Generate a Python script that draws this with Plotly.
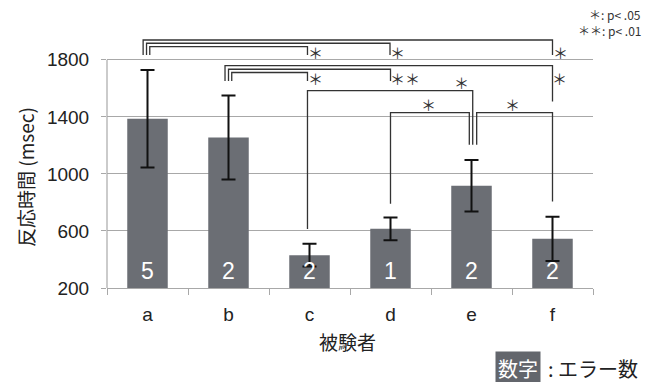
import plotly.graph_objects as go

# Reaction time per participant
subjects = ["a", "b", "c", "d", "e", "f"]
mean_rt = [1387, 1255, 430, 615, 917, 545]
sd_rt = [342, 295, 80, 80, 181, 155]
error_counts = ["5", "2", "2", "1", "2", "2"]
y_ticks = [200, 600, 1000, 1400, 1800]

# Significance brackets: left x, right x (category index), bracket top,
# left foot, right foot (msec)
bracket_x0 = [-0.054, -0.012, 0.028, 0.957, 1.0, 1.04, 1.975, 3.0, 4.064]
bracket_x1 = [5.0, 2.994, 1.975, 5.0, 3.0, 1.975, 4.015, 3.973, 5.0]
bracket_top = [1939, 1916, 1892, 1759, 1734, 1711, 1584, 1430, 1430]
bracket_foot0 = [1834, 1834, 1834, 1652, 1652, 1652, 613, 790, 1204]
bracket_foot1 = [1834, 1834, 1834, 1507, 1652, 1652, 1204, 1204, 806]

# Significance marks
mark_x = [2.07, 3.09, 5.1, 2.07, 3.18, 5.09, 3.88, 3.47, 4.51]
mark_y = [1853, 1853, 1853, 1666, 1666, 1666, 1638, 1490, 1490]
mark_text = ["＊", "＊", "＊", "＊", "＊＊", "＊", "＊", "＊", "＊"]

JP = "Noto Sans CJK JP"
LAT = "Liberation Sans, Noto Sans CJK JP"
GRID = "#a8a8a8"
LINE = "#333333"

L, R, T, B = 107, 66, 37, 94
W, H = 659, 382
PW, PH = W - L - R, H - T - B


def px(x):
    return (x - L) / PW


def py(y):
    return (H - B - y) / PH


fig = go.Figure()
fig.add_trace(go.Bar(
    x=subjects, y=mean_rt, base=0,
    marker=dict(color="#6b6e74", line=dict(width=0)),
    width=0.5,
    error_y=dict(type="data", array=sd_rt, visible=True,
                 color="#111111", thickness=2, width=7),
    showlegend=False,
))

shapes = []
# y axis line only spans the labelled range
shapes.append(dict(type="line", xref="paper", yref="y", x0=0, x1=0,
                   y0=200, y1=1800, line=dict(color=GRID, width=1.2)))
for x0, x1, top, f0, f1 in zip(bracket_x0, bracket_x1, bracket_top,
                               bracket_foot0, bracket_foot1):
    path = f"M {x0} {f0} L {x0} {top} L {x1} {top} L {x1} {f1}"
    shapes.append(dict(type="path", xref="x", yref="y", path=path,
                       line=dict(color=LINE, width=1.3)))

annotations = []
for x, y, t in zip(mark_x, mark_y, mark_text):
    annotations.append(dict(x=x, y=y, xref="x", yref="y", text=t,
                            showarrow=False, xanchor="center", yanchor="middle",
                            font=dict(family=JP, size=15, color=LINE)))

for i, n in enumerate(error_counts):
    annotations.append(dict(x=i, y=200, xref="x", yref="y", text=n,
                            showarrow=False, xanchor="center", yanchor="middle",
                            yshift=17,
                            font=dict(family=LAT, size=23, color="white")))


def paper_text(x, y, text, size, color, xanchor="center", **kw):
    return dict(x=px(x), y=py(y), xref="paper", yref="paper", text=text,
                showarrow=False, xanchor=xanchor, yanchor="middle",
                font=dict(family=JP, size=size, color=color), **kw)


# significance key
annotations.append(paper_text(643, 14, "＊: p< .05", 12, LINE, "right"))
annotations.append(paper_text(643, 30, "＊＊: p< .01", 12, LINE, "right"))

# error-count key
annotations.append(paper_text(517.5, 368.5, "数字", 20, "white",
                              bgcolor="#63666c", borderpad=2))
annotations.append(paper_text(546, 368.5, ": エラー数", 20, "#222222", "left"))

# axis titles
annotations.append(paper_text(25, 177, "反応時間 (msec)", 19, "#222222",
                              textangle=-90))
annotations.append(paper_text(347, 341, "被験者", 19, "#222222"))

fig.update_layout(
    width=W, height=H,
    margin=dict(l=L, r=R, t=T, b=B),
    paper_bgcolor="white", plot_bgcolor="white",
    bargap=0.5,
    shapes=shapes,
    annotations=annotations,
    xaxis=dict(type="category", showline=True, linecolor=GRID, linewidth=1.2,
               ticks="outside", tickson="boundaries", ticklen=6, tickcolor=GRID,
               tickfont=dict(family=LAT, size=19, color="#222222"),
               ticklabelstandoff=9, showgrid=False),
    yaxis=dict(range=[200, 1960], tickvals=y_ticks, showline=False,
               ticks="outside", ticklen=5, tickcolor=GRID,
               showgrid=True, gridcolor=GRID, gridwidth=1.2, zeroline=False,
               tickfont=dict(family=LAT, size=19, color="#222222"),
               ticklabelstandoff=8),
)

fig.write_html("out.html")
